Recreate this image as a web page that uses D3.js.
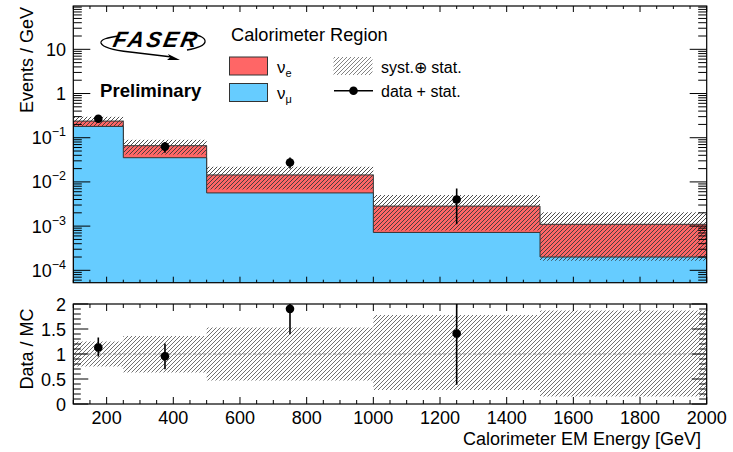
<!DOCTYPE html>
<html><head><meta charset="utf-8">
<script src="https://cdn.jsdelivr.net/npm/d3@7"></script>
<style>body{margin:0;background:#fff} svg{font-family:"Liberation Sans",Arial,Helvetica,sans-serif}</style>
</head><body><svg id="c" width="733" height="452"></svg>
<script>
// ---------- data ----------
const binEdges = [100, 250, 500, 1000, 1500, 2000];
const numuValues = [0.18, 0.0353, 0.00564, 0.00072, 0.0002];
const nueValues = [0.058, 0.0307, 0.00876, 0.00212, 0.0009];
const bandLowRatio = [0.75, 0.63, 0.47, 0.28, 0.15];
const bandHighRatio = [1.25, 1.36, 1.53, 1.78, 1.87];
const dataX = [175, 375, 750, 1250];
const dataValues = [0.269, 0.0630, 0.0274, 0.0040];
const dataErrLow = [0.043, 0.017, 0.0073, 0.0029];
const dataErrHigh = [0.048, 0.017, 0.0083, 0.0031];
const xTicks = [200, 400, 600, 800, 1000, 1200, 1400, 1600, 1800, 2000];
const logTicks = [10, 1, 0.1, 0.01, 0.001, 0.0001];
const ratioTicks = [0, 0.5, 1, 1.5, 2];

// ---------- layout ----------
const svg = d3.select("#c");
const L = 73.3, R = 706.7;
const topT = 6, topB = 282.7, botT = 304, botB = 404;
const x = d3.scaleLinear().domain([100, 2000]).range([L, R]);
const y = d3.scaleLog().domain([Math.pow(10, -4.28), Math.pow(10, 1.98)]).range([topB, topT]);
const yr = d3.scaleLinear().domain([0, 2]).range([botB, botT]);
const total = numuValues.map((v, i) => v + nueValues[i]);
const nb = numuValues.length;

const defs = svg.append("defs");
const pat = defs.append("pattern").attr("id", "hatch").attr("patternUnits", "userSpaceOnUse")
  .attr("width", 4).attr("height", 4);
pat.append("path").attr("d", "M-1,1 l2,-2 M0,4 l4,-4 M3,5 l2,-2")
  .attr("stroke", "#3a3a3a").attr("stroke-width", 0.9);
defs.append("clipPath").attr("id", "clipTop").append("rect")
  .attr("x", L).attr("y", topT).attr("width", R - L).attr("height", topB - topT);
defs.append("clipPath").attr("id", "clipBot").append("rect")
  .attr("x", L).attr("y", botT).attr("width", R - L).attr("height", botB - botT);

function stepPath(vals, sy, base) {
  let d = `M${x(binEdges[0])},${base}`;
  vals.forEach((v, i) => { d += `V${sy(v)}H${x(binEdges[i + 1])}`; });
  d += `V${base}Z`;
  return d;
}

// ---------- top panel ----------
const gt = svg.append("g").attr("clip-path", "url(#clipTop)");
gt.append("path").attr("d", stepPath(total, y, topB + 2)).attr("fill", "#ff6666")
  .attr("stroke", "#333").attr("stroke-width", 1);
gt.append("path").attr("d", stepPath(numuValues, y, topB + 2)).attr("fill", "#66ccff")
  .attr("stroke", "#333").attr("stroke-width", 1);
gt.selectAll("rect.band").data(d3.range(nb)).join("rect").attr("class", "band")
  .attr("x", i => x(binEdges[i])).attr("width", i => x(binEdges[i + 1]) - x(binEdges[i]))
  .attr("y", i => y(total[i] * bandHighRatio[i]))
  .attr("height", i => y(total[i] * bandLowRatio[i]) - y(total[i] * bandHighRatio[i]))
  .attr("fill", "url(#hatch)");
gt.selectAll("line.err").data(dataX).join("line").attr("class", "err")
  .attr("x1", d => x(d)).attr("x2", d => x(d))
  .attr("y1", (d, i) => y(dataValues[i] + dataErrHigh[i]))
  .attr("y2", (d, i) => y(dataValues[i] - dataErrLow[i]))
  .attr("stroke", "#000").attr("stroke-width", 1.6);
gt.selectAll("circle").data(dataX).join("circle")
  .attr("cx", d => x(d)).attr("cy", (d, i) => y(dataValues[i])).attr("r", 4.3).attr("fill", "#000");

// ---------- bottom panel ----------
const gb = svg.append("g").attr("clip-path", "url(#clipBot)");
gb.selectAll("rect.band").data(d3.range(nb)).join("rect").attr("class", "band")
  .attr("x", i => x(binEdges[i])).attr("width", i => x(binEdges[i + 1]) - x(binEdges[i]))
  .attr("y", i => yr(bandHighRatio[i]))
  .attr("height", i => yr(bandLowRatio[i]) - yr(bandHighRatio[i]))
  .attr("fill", "url(#hatch)").attr("opacity", 0.8);
gb.append("line").attr("x1", L).attr("x2", R).attr("y1", yr(1)).attr("y2", yr(1))
  .attr("stroke", "#888").attr("stroke-width", 1).attr("stroke-dasharray", "3,2");
const dataIdx = dataX.map((d, i) => i);
const binOf = xv => binEdges.findIndex((e, k) => xv >= e && xv < binEdges[k + 1]);
gb.selectAll("line.err").data(dataIdx).join("line").attr("class", "err")
  .attr("x1", i => x(dataX[i])).attr("x2", i => x(dataX[i]))
  .attr("y1", i => yr((dataValues[i] + dataErrHigh[i]) / total[binOf(dataX[i])]))
  .attr("y2", i => yr((dataValues[i] - dataErrLow[i]) / total[binOf(dataX[i])]))
  .attr("stroke", "#000").attr("stroke-width", 1.6);
gb.selectAll("circle").data(dataIdx).join("circle")
  .attr("cx", i => x(dataX[i])).attr("cy", i => yr(dataValues[i] / total[binOf(dataX[i])]))
  .attr("r", 4.3).attr("fill", "#000");

// ---------- frames & ticks ----------
function frame(t, b) {
  svg.append("rect").attr("x", L).attr("y", t).attr("width", R - L).attr("height", b - t)
    .attr("fill", "none").attr("stroke", "#000").attr("stroke-width", 1.2);
}
frame(topT, topB); frame(botT, botB);
const tk = svg.append("g").attr("stroke", "#000").attr("stroke-width", 1);
function xTickMarks(t, b, maj, min) {
  d3.range(100, 2001, 50).forEach(v => {
    const len = v % 200 === 0 ? maj : min;
    tk.append("line").attr("x1", x(v)).attr("x2", x(v)).attr("y1", b).attr("y2", b - len);
    tk.append("line").attr("x1", x(v)).attr("x2", x(v)).attr("y1", t).attr("y2", t + len);
  });
}
xTickMarks(topT, topB, 6, 3);
xTickMarks(botT, botB, 7, 4);
// log y ticks
[-5, -4, -3, -2, -1, 0, 1].forEach(e => {
  for (let m = 1; m <= 9; m++) {
    const v = m * Math.pow(10, e);
    const yy = y(v);
    if (yy < topT - 0.1 || yy > topB + 0.1) continue;
    const len = m === 1 ? 17 : 8.5;
    tk.append("line").attr("x1", L).attr("x2", L + len).attr("y1", yy).attr("y2", yy);
    tk.append("line").attr("x1", R).attr("x2", R - len).attr("y1", yy).attr("y2", yy);
  }
});
d3.range(0, 2.001, 0.1).forEach(v => {
  const major = Math.abs(v * 2 - Math.round(v * 2)) < 1e-6;
  const len = major ? 15 : 7.5;
  tk.append("line").attr("x1", L).attr("x2", L + len).attr("y1", yr(v)).attr("y2", yr(v));
  tk.append("line").attr("x1", R).attr("x2", R - len).attr("y1", yr(v)).attr("y2", yr(v));
});

// ---------- tick labels ----------
const fs = 18;
svg.append("g").selectAll("text").data(xTicks).join("text")
  .attr("x", d => x(d)).attr("y", 424).attr("text-anchor", "middle")
  .attr("font-size", fs).text(d => d);
svg.append("g").selectAll("text").data(ratioTicks).join("text")
  .attr("x", 66).attr("y", d => yr(d) + 6.5).attr("text-anchor", "end")
  .attr("font-size", fs).text(d => d);
const lt = svg.append("g").selectAll("text").data(logTicks).join("text")
  .attr("x", 66).attr("y", d => y(d) + 6.5).attr("text-anchor", "end").attr("font-size", fs);
lt.each(function (d) {
  const e = Math.round(Math.log10(d));
  const s = d3.select(this);
  if (e === 1) s.text("10");
  else if (e === 0) s.text("1");
  else {
    s.append("tspan").text("10");
    s.append("tspan").attr("dy", -8).attr("font-size", 12.5).text("\u2212" + (-e));
  }
});

// ---------- axis titles ----------
svg.append("text").attr("transform", "translate(33,7) rotate(-90)").attr("text-anchor", "end")
  .attr("font-size", 18).text("Events / GeV");
svg.append("text").attr("transform", "translate(33,349) rotate(-90)").attr("text-anchor", "middle")
  .attr("font-size", 18).text("Data / MC");
svg.append("text").attr("x", 701).attr("y", 445).attr("text-anchor", "end")
  .attr("font-size", 18).text("Calorimeter EM Energy [GeV]");

// ---------- logo ----------
const logo = svg.append("g");
logo.append("path").attr("d", "M120,36 Q100,38 101,43 Q103,49 130,52 L172,57")
  .attr("fill", "none").attr("stroke", "#000").attr("stroke-width", 1.3);
logo.append("path").attr("d", "M180,60 L168,54 L170,57.5 L167,60 Z").attr("fill", "#000");
logo.append("path").attr("d", "M190,34 Q206,36 205,42 Q204,47 187,50")
  .attr("fill", "none").attr("stroke", "#000").attr("stroke-width", 1.3);
logo.append("text").attr("x", 155).attr("y", 47).attr("text-anchor", "middle")
  .attr("font-size", 22).attr("font-weight", "bold").attr("font-style", "italic")
  .attr("letter-spacing", 2.5).attr("transform", "translate(155,47) skewX(-12) translate(-155,-47)")
  .text("FASER");
svg.append("text").attr("x", 100).attr("y", 97).attr("font-size", 18.6).attr("font-weight", "bold")
  .text("Preliminary");

// ---------- legend ----------
svg.append("text").attr("x", 231).attr("y", 41).attr("font-size", 18.2).text("Calorimeter Region");
svg.append("rect").attr("x", 229.5).attr("y", 57).attr("width", 38).attr("height", 18)
  .attr("fill", "#ff6666").attr("stroke", "#333").attr("stroke-width", 1);
svg.append("rect").attr("x", 229.5).attr("y", 83.5).attr("width", 38).attr("height", 18)
  .attr("fill", "#66ccff").attr("stroke", "#333").attr("stroke-width", 1);
const nuE = svg.append("text").attr("x", 277).attr("y", 73).attr("font-size", 17);
nuE.append("tspan").text("\u03bd");
nuE.append("tspan").attr("dy", 4).attr("font-size", 11).text("e");
const nuM = svg.append("text").attr("x", 277).attr("y", 99).attr("font-size", 17);
nuM.append("tspan").text("\u03bd");
nuM.append("tspan").attr("dy", 4).attr("font-size", 11).text("\u03bc");
svg.append("rect").attr("x", 333.5).attr("y", 57).attr("width", 39).attr("height", 18)
  .attr("fill", "url(#hatch)").attr("opacity", 0.7);
svg.append("text").attr("x", 381).attr("y", 73).attr("font-size", 16).text("syst.\u2295 stat.");
svg.append("line").attr("x1", 334).attr("x2", 373).attr("y1", 90.7).attr("y2", 90.7)
  .attr("stroke", "#000").attr("stroke-width", 1.6);
svg.append("circle").attr("cx", 353.5).attr("cy", 90.7).attr("r", 4.3).attr("fill", "#000");
svg.append("text").attr("x", 381).attr("y", 97).attr("font-size", 16).text("data + stat.");
</script></body></html>
